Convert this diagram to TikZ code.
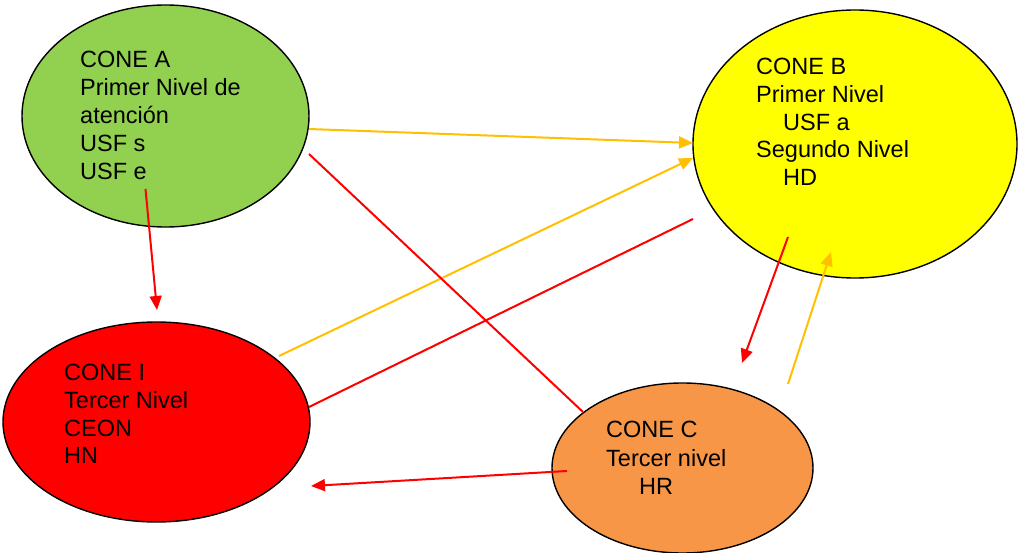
\documentclass[tikz,border=0pt]{standalone}
\usepackage{fontspec}
\setmainfont{Liberation Sans}
\usetikzlibrary{shapes.geometric,arrows.meta}
\definecolor{cgreen}{HTML}{92D050}
\definecolor{cyellow}{HTML}{FFFF00}
\definecolor{cred}{HTML}{FF0000}
\definecolor{corange}{HTML}{F79646}
\definecolor{carrow}{HTML}{FFC000}
\begin{document}
\begin{tikzpicture}[x=1pt,y=-1pt,
  cone/.style={ellipse,draw=black,line width=1.4pt,inner sep=0pt},
  lbl/.style={anchor=base west,inner sep=0pt,font=\fontsize{23.5}{28}\selectfont},
  redline/.style={draw=cred,line width=2pt},
  orline/.style={draw=carrow,line width=2pt},
  tip/.style={-{Triangle[length=14pt,width=12pt]}}]
\useasboundingbox (0,0) rectangle (1018,553);
% ellipses
\node[cone,fill=cgreen,minimum width=287pt,minimum height=222pt] (A) at (165.5,116) {};
\node[cone,fill=cyellow,minimum width=324pt,minimum height=268pt] (B) at (855,144) {};
\node[cone,fill=cred,minimum width=307pt,minimum height=200pt] (I) at (156.5,422) {};
\node[cone,fill=corange,minimum width=261pt,minimum height=170pt] (C) at (682.5,468) {};
% texts
\node[lbl] (a1) at (80,68) {CONE A};
\node[lbl] (a2) at (80,96) {Primer Nivel de};
\node[lbl] (a3) at (80,124) {atención};
\node[lbl] (a4) at (80,151.5) {USF s};
\node[lbl] (a5) at (80,179.5) {USF e};
\node[lbl] (b1) at (756,75) {CONE B};
\node[lbl] (b2) at (756,103) {Primer Nivel};
\node[lbl] (b3) at (783,130.5) {USF a};
\node[lbl] (b4) at (756,158) {Segundo Nivel};
\node[lbl] (b5) at (783,185.5) {HD};
\node[lbl] (i1) at (64,381) {CONE I};
\node[lbl] (i2) at (64,409) {Tercer Nivel};
\node[lbl] (i3) at (64,436) {CEON};
\node[lbl] (i4) at (64,463.5) {HN};
\node[lbl] (c1) at (606,438) {CONE C};
\node[lbl] (c2) at (606,466.5) {Tercer nivel};
\node[lbl] (c3) at (639,494) {HR};
% connector end points
\coordinate (aI) at (145.5,189);
\coordinate (Ia) at (157,310);
\coordinate (aB) at (309,129);
\coordinate (Ba) at (693,143);
\coordinate (iB) at (279,356);
\coordinate (Bi) at (693,158);
\coordinate (aC) at (309,154);
\coordinate (Ca) at (583,412);
\coordinate (iR) at (309,407);
\coordinate (Bir) at (693,219);
\coordinate (bC) at (788,237);
\coordinate (Cb) at (742,363);
\coordinate (cB) at (788,384);
\coordinate (Bc) at (831,252);
\coordinate (cI) at (567,471);
\coordinate (Ic) at (311,486);
% connectors
\draw[redline,tip] (aI) -- (Ia);
\draw[orline,tip] (aB) -- (Ba);
\draw[orline,tip] (iB) -- (Bi);
\draw[redline] (aC) -- (Ca);
\draw[redline] (iR) -- (Bir);
\draw[redline,tip] (bC) -- (Cb);
\draw[orline,tip] (cB) -- (Bc);
\draw[redline,tip] (cI) -- (Ic);
\end{tikzpicture}
\end{document}
